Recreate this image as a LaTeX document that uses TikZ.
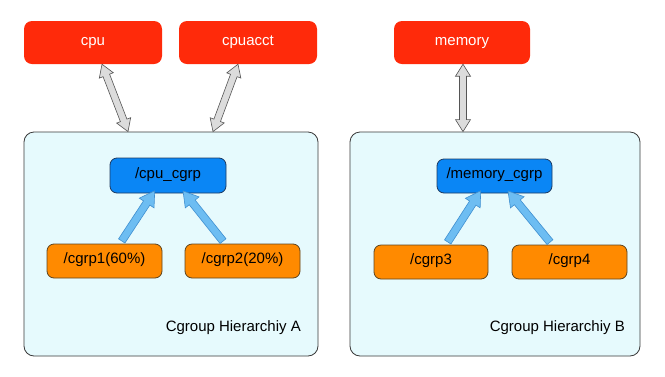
\documentclass[tikz,border=0pt]{standalone}
\usepackage{fontspec}
\setmainfont{Liberation Sans}
\usetikzlibrary{calc,shapes.arrows}

\definecolor{ctlred}{HTML}{FF2A0A}
\definecolor{hierfill}{HTML}{E6FAFD}
\definecolor{hierline}{HTML}{3A3A3A}
\definecolor{rootblue}{HTML}{0A86F5}
\definecolor{rootline}{HTML}{1E3A60}
\definecolor{grporange}{HTML}{FF8A00}
\definecolor{grpline}{HTML}{5E4520}
\definecolor{arrowblue}{HTML}{6DBDF2}
\definecolor{arrowblueline}{HTML}{3F8FD0}
\definecolor{arrowgray}{HTML}{DCDCDC}
\definecolor{arrowgrayline}{HTML}{555555}

\tikzset{
  every node/.style={font=\fontsize{15}{18}\selectfont},
  boxtext/.style={text height=9pt, text depth=4pt},
  subsys/.style={boxtext, fill=ctlred, rounded corners=8pt, minimum width=138pt,
    minimum height=43pt, text=white, inner sep=0pt},
  hier/.style={draw=hierline, line width=0.8pt, fill=hierfill, rounded corners=10pt,
    minimum width=294pt, minimum height=224pt, inner sep=0pt},
  rootgrp/.style={boxtext, draw=rootline, line width=0.8pt, fill=rootblue, rounded corners=7pt,
    minimum width=116pt, minimum height=35pt, inner sep=0pt},
  childgrp/.style={boxtext, draw=grpline, line width=0.8pt, fill=grporange, rounded corners=7pt,
    minimum width=115pt, minimum height=34pt, inner sep=0pt},
  hierlabel/.style={anchor=east, inner sep=0pt},
  upfat/.style={single arrow, draw=arrowblueline, fill=arrowblue, line width=0.6pt,
    inner xsep=0pt, inner ysep=3.5pt, outer sep=0pt, minimum width=0pt,
    single arrow head extend=5pt, single arrow tip angle=62},
  bothfat/.style={double arrow, draw=arrowgrayline, fill=arrowgray, line width=0.6pt,
    inner xsep=0pt, inner ysep=3.2pt, outer sep=0pt, minimum width=0pt,
    double arrow head extend=4pt, double arrow tip angle=64},
}

% fat arrow node stretched from one point to another: style, name, from, to
\newcommand{\fatlink}[4]{%
  \path let \p1=($(#4)-(#3)$), \n1={atan2(\y1,\x1)}, \n2={veclen(\x1,\y1)} in
    node[#1, rotate=\n1, minimum height=\n2] (#2) at ($(#3)!0.5!(#4)$) {};}

\begin{document}
\begin{tikzpicture}[x=1pt,y=-1pt]
  \useasboundingbox[fill=white] (0,0) rectangle (665,376);

  % subsystems
  \node[subsys] (cpu) at (93,42.5) {cpu};
  \node[subsys] (cpuacct) at (248,42.5) {cpuacct};
  \node[subsys, minimum width=136pt] (memory) at (462,42.5) {memory};

  % hierarchies
  \node[hier] (hierA) at (171,244) {};
  \node[hier, minimum width=290pt] (hierB) at (495,244) {};

  % hierarchy A
  \node[rootgrp] (cpucgrp) at (168,175.5) {/cpu\_cgrp};
  \node[childgrp] (cgrp1) at (104.5,261) {/cgrp1(60\%)};
  \node[childgrp] (cgrp2) at (242.5,261) {/cgrp2(20\%)};
  \node[hierlabel] (labelA) at (301,328) {Cgroup Hierarchiy A};

  % hierarchy B
  \node[rootgrp, minimum width=115pt, minimum height=34pt] (memcgrp) at (494.5,176) {/memory\_cgrp};
  \node[childgrp, minimum width=114pt] (cgrp3) at (431,262) {/cgrp3};
  \node[childgrp] (cgrp4) at (569.5,262) {/cgrp4};
  \node[hierlabel] (labelB) at (625,328) {Cgroup Hierarchiy B};

  % attach points
  \coordinate (c1top) at ($(cgrp1.north)+(15.5,0)$);
  \coordinate (c2top) at ($(cgrp2.north)+(-17.5,0)$);
  \coordinate (cpuL) at ($(cpucgrp.south)+(-15,0)$);
  \coordinate (cpuR) at ($(cpucgrp.south)+(17,0)$);
  \coordinate (c3top) at ($(cgrp3.north)+(15,0)$);
  \coordinate (c4top) at ($(cgrp4.north)+(-17.5,0)$);
  \coordinate (memL) at ($(memcgrp.south)+(-15.5,0)$);
  \coordinate (memR) at ($(memcgrp.south)+(15.5,0)$);
  \coordinate (cpuBot) at ($(cpu.south)+(9,0)$);
  \coordinate (acctBot) at ($(cpuacct.south)+(-10,0)$);
  \coordinate (memBot) at ($(memory.south)+(1,0)$);
  \coordinate (hAL) at ($(hierA.north)+(-43,0)$);
  \coordinate (hAR) at ($(hierA.north)+(42,0)$);
  \coordinate (hBm) at ($(hierB.north)+(-32,0)$);

  % children to roots
  \fatlink{upfat}{a1}{c1top}{cpuL}
  \fatlink{upfat}{a2}{c2top}{cpuR}
  \fatlink{upfat}{a3}{c3top}{memL}
  \fatlink{upfat}{a4}{c4top}{memR}

  % subsystems to hierarchies
  \fatlink{bothfat}{b1}{cpuBot}{hAL}
  \fatlink{bothfat}{b2}{acctBot}{hAR}
  \fatlink{bothfat}{b3}{memBot}{hBm}
\end{tikzpicture}
\end{document}
